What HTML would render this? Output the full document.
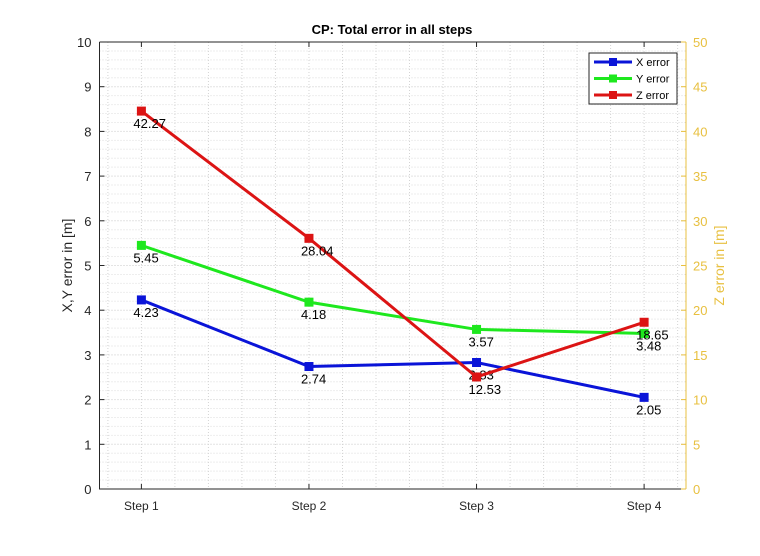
<!DOCTYPE html>
<html><head><meta charset="utf-8"><style>
html,body{margin:0;padding:0;background:#fff;}
svg text{font-family:"Liberation Sans",sans-serif;}
</style></head><body>
<svg id="c" width="760" height="551" viewBox="0 0 760 551" xmlns="http://www.w3.org/2000/svg"></svg>
<script>
const categories=["Step 1","Step 2","Step 3","Step 4"];
const xErr=[4.23,2.74,2.83,2.05];
const yErr=[5.45,4.18,3.57,3.48];
const zErr=[42.27,28.04,12.53,18.65];
const leftTicks=[0,1,2,3,4,5,6,7,8,9,10];
const rightTicks=[0,5,10,15,20,25,30,35,40,45,50];
const L=99.5,R=686,T=42,B=489;
const sx=i=>L+(i+1-0.75)/3.5*(R-L);
const syL=v=>B-v/10*(B-T);
const syR=v=>B-v/50*(B-T);
const svg=document.getElementById('c');
const NS='http://www.w3.org/2000/svg';
function mk(tag,at,txt){const e=document.createElementNS(NS,tag);for(const k in at)e.setAttribute(k,at[k]);if(txt!==undefined)e.textContent=txt;svg.appendChild(e);return e;}
// grid
for(let k=0;k<=50;k++){const y=B-k*(B-T)/50;if(k===0||k===50)continue;
 const g=mk('line',{x1:L,x2:R,y1:y,y2:y,stroke:k%5===0?'#c8c8c8':'#dcdcdc','stroke-width':1,'stroke-dasharray':'1,2'});
 }
for(let v=0.8;v<4.25;v+=0.2){const x=L+(v-0.75)/3.5*(R-L);
 const g=mk('line',{x1:x,x2:x,y1:T,y2:B,stroke:'#d4d4d4','stroke-width':1,'stroke-dasharray':'1,2'});
 }
// axes
let a=mk('path',{d:`M${L},${T}H${R}M${L},${T}V${B}H${R}`,stroke:'#262626',fill:'none','stroke-width':1});

a=mk('line',{x1:R,x2:R,y1:T,y2:B,stroke:'#e8c040','stroke-width':1});

leftTicks.forEach(v=>{const y=syL(v);mk('line',{x1:L,x2:L+5,y1:y,y2:y,stroke:'#262626'});
 const t=mk('text',{x:L-8,y:y+5,'text-anchor':'end','font-size':13,fill:'#262626'},v);
 });
rightTicks.forEach(v=>{const y=syR(v);mk('line',{x1:R-5,x2:R,y1:y,y2:y,stroke:'#e8c040'});
 const t=mk('text',{x:R+7,y:y+5,'font-size':13,fill:'#e8c040'},v);
 });
categories.forEach((c,i)=>{const x=sx(i);mk('line',{x1:x,x2:x,y1:B,y2:B-5,stroke:'#262626'});mk('line',{x1:x,x2:x,y1:T,y2:T+5,stroke:'#262626'});
 const t=mk('text',{x:x,y:B+21,'text-anchor':'middle','font-size':12,fill:'#262626'},c);
 });
let t=mk('text',{x:392,y:34,'text-anchor':'middle','font-size':13,'font-weight':'bold',fill:'#000'},'CP: Total error in all steps');

t=mk('text',{x:0,y:0,'text-anchor':'middle','font-size':14,fill:'#262626',transform:`translate(72,${(T+B)/2}) rotate(-90)`},'X,Y error in [m]');

t=mk('text',{x:0,y:0,'text-anchor':'middle','font-size':14,fill:'#e8c040',transform:`translate(724,${(T+B)/2}) rotate(-90)`},'Z error in [m]');

function series(vals,sy,col,name){
 const p=mk('polyline',{points:vals.map((v,i)=>sx(i)+','+sy(v)).join(' '),fill:'none',stroke:col,'stroke-width':3});
 
 vals.forEach((v,i)=>{const m=mk('rect',{x:sx(i)-4,y:sy(v)-4,width:8,height:8,fill:col,stroke:col});
  
  const l=mk('text',{x:sx(i)-8,y:sy(v)+17,'font-size':13,fill:'#000'},v.toFixed(2));
  });
}
series(xErr,syL,'#0a14d8','x-error');
series(yErr,syL,'#1ee81e','y-error');
series(zErr,syR,'#dc1414','z-error');
// legend
const lg=mk('rect',{x:589,y:53,width:88,height:51,fill:'#fff',stroke:'#262626'});

[['X error','#0a14d8'],['Y error','#1ee81e'],['Z error','#dc1414']].forEach((e,k)=>{const y=62+k*16.5;
 mk('line',{x1:594,x2:632,y1:y,y2:y,stroke:e[1],'stroke-width':3});
 mk('rect',{x:609,y:y-4,width:8,height:8,fill:e[1]});
 const tx=mk('text',{x:636,y:y+4,'font-size':11,fill:'#000'},e[0]);
 });
</script>
</body></html>
